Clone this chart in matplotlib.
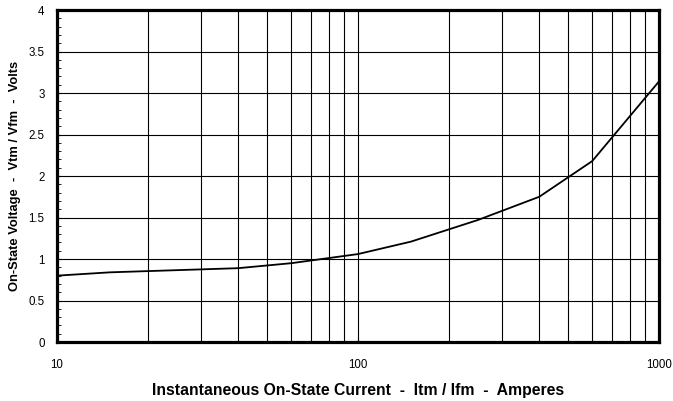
import numpy as np
import matplotlib
matplotlib.use('Agg')
import matplotlib.pyplot as plt
from matplotlib.ticker import FixedLocator, MultipleLocator, FuncFormatter, NullFormatter

plt.rcParams['font.family'] = ['Liberation Sans', 'DejaVu Sans']

# forward characteristic: instantaneous current (A) vs on-state voltage (V)
current = [10, 15, 40, 60, 100, 150, 250, 400, 600, 1000]
voltage = [0.80, 0.84, 0.89, 0.95, 1.06, 1.21, 1.47, 1.75, 2.18, 3.14]

x_major = [10, 100, 1000]
x_minor = [20, 30, 40, 50, 60, 70, 80, 90, 200, 300, 400, 500, 600, 700, 800, 900]

fig = plt.figure(figsize=(6.73, 4.01), dpi=100)
ax = fig.add_axes([0.0847, 0.147, 0.8945, 0.828])

ax.plot(current, voltage, color='black', lw=1.3, zorder=3)

ax.set_xscale('log')
ax.set_xlim(10, 1000)
ax.set_ylim(0, 4)

ax.xaxis.set_major_locator(FixedLocator(x_major))
ax.xaxis.set_minor_locator(FixedLocator(x_minor))
ax.xaxis.set_major_formatter(FuncFormatter(lambda v, p: '%d' % v))
ax.xaxis.set_minor_formatter(NullFormatter())
ax.yaxis.set_major_locator(MultipleLocator(0.5))
ax.yaxis.set_minor_locator(MultipleLocator(0.1))
ax.yaxis.set_major_formatter(FuncFormatter(lambda v, p: ('%g' % v)))

ax.grid(True, which='major', color='black', lw=0.8)
ax.grid(True, which='minor', axis='x', color='black', lw=0.8)

ax.tick_params(axis='x', which='both', direction='in', length=3, pad=12,
               labelsize=8.3, color='black')
ax.tick_params(axis='y', which='both', direction='in', length=3, pad=9,
               labelsize=8.3, color='black')

for s in ax.spines.values():
    s.set_linewidth(2.3)
    s.set_zorder(4)

ax.set_xlabel('Instantaneous On-State Current  -  Itm / Ifm  -  Amperes',
              fontsize=11.3, fontweight='bold', labelpad=9)
ax.set_ylabel('On-State Voltage  -  Vtm / Vfm  -  Volts',
              fontsize=9.3, fontweight='bold', labelpad=5)

fig.savefig('out.png', dpi=100)
